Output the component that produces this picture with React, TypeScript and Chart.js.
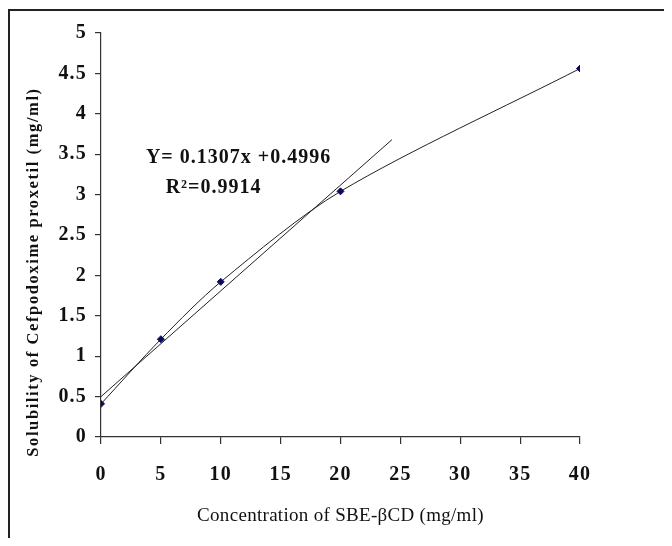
import React, { useEffect, useRef } from "react";
import { Chart, registerables } from "chart.js";

Chart.register(...registerables);

// Data
const concentration = [0, 5, 10, 20, 40];
const solubility = [0.41, 1.21, 1.92, 3.04, 4.56];
// Linear trendline endpoints (as drawn in the picture)
const trendX = [0, 24.3];
const trendY = [0.5, 3.68];

const xTitle = "Concentration of SBE-\u03B2CD (mg/ml)";
const yTitle = "Solubility of Cefpodoxime proxetil (mg/ml)";
const eqLine1 = "Y= 0.1307x +0.4996";
const eqLine2 = "R\u00B2=0.9914";
// anchor positions of the equation text (in data units)
const eq1Pos = [3.75, 3.39];
const eq2Pos = [5.4, 3.02];

const W = 658;
const H = 528;
const FONT = "'Liberation Serif', 'Times New Roman', serif";

export default function App() {
  const ref = useRef<HTMLCanvasElement>(null);
  useEffect(() => {
    if (!ref.current) return;
    const textPlugin = {
      id: "textPlugin",
      beforeDraw(chart: any) {
        chart.ctx.letterSpacing = "1.2px";
      },
      afterDraw(chart: any) {
        const ctx = chart.ctx;
        const ca = chart.chartArea;
        const xs = chart.scales.x;
        const ys = chart.scales.y;
        ctx.save();
        ctx.fillStyle = "#111";
        // Y title
        ctx.letterSpacing = "1.6px";
        ctx.font = `bold 16.5px ${FONT}`;
        ctx.textAlign = "center";
        ctx.textBaseline = "middle";
        ctx.translate(ca.left - 67, ca.top + 239);
        ctx.rotate(-Math.PI / 2);
        ctx.fillText(yTitle, 0, 0);
        ctx.restore();

        ctx.save();
        ctx.fillStyle = "#111";
        ctx.letterSpacing = "0.3px";
        ctx.font = `19px ${FONT}`;
        ctx.textAlign = "center";
        ctx.textBaseline = "middle";
        ctx.fillText(xTitle, (ca.left + ca.right) / 2, ca.bottom + 79);

        ctx.letterSpacing = "1px";
        ctx.font = `bold 20px ${FONT}`;
        ctx.textAlign = "left";
        ctx.textBaseline = "alphabetic";
        ctx.fillText(eqLine1, xs.getPixelForValue(eq1Pos[0]), ys.getPixelForValue(eq1Pos[1]));
        ctx.fillText(eqLine2, xs.getPixelForValue(eq2Pos[0]), ys.getPixelForValue(eq2Pos[1]));
        ctx.restore();
        ctx.letterSpacing = "0px";
      },
    };

    const chart = new Chart(ref.current, {
      type: "scatter",
      data: {
        datasets: [
          {
            label: "Solubility",
            data: concentration.map((x, i) => ({ x, y: solubility[i] })),
            showLine: true,
            tension: 0.3,
            borderColor: "#222",
            borderWidth: 1,
            pointStyle: "rectRot",
            pointRadius: 3.5,
            pointBackgroundColor: "#0b0b5e",
            pointBorderColor: "#0b0b5e",
            pointBorderWidth: 1,
            order: 1,
          },
          {
            label: "Linear",
            data: trendX.map((x, i) => ({ x, y: trendY[i] })),
            showLine: true,
            borderColor: "#222",
            borderWidth: 1,
            pointRadius: 0,
            order: 2,
          },
        ],
      },
      options: {
        responsive: false,
        animation: false,
        layout: { padding: { left: 0, top: 22, right: 88, bottom: 42 } },
        plugins: {
          legend: { display: false },
          tooltip: { enabled: false },
        },
        scales: {
          x: {
            type: "linear",
            min: 0,
            max: 40,
            afterFit(scale: any) {
              scale.height = 60;
            },
            ticks: {
              stepSize: 5,
              color: "#111",
              padding: 19,
              font: { family: FONT, size: 20, weight: "bold" },
              maxRotation: 0,
              callback: (v: any) => String(v),
            },
            grid: {
              drawOnChartArea: false,
              drawTicks: true,
              tickLength: 7,
              color: "#333",
              lineWidth: 1.2,
            },
            border: { display: true, color: "#333", width: 1.2 },
          },
          y: {
            type: "linear",
            min: 0,
            max: 5,
            afterFit(scale: any) {
              scale.width = 91;
            },
            ticks: {
              stepSize: 0.5,
              color: "#111",
              padding: 8,
              font: { family: FONT, size: 20, weight: "bold" },
              callback: (v: any) => String(v),
            },
            grid: {
              drawOnChartArea: false,
              drawTicks: true,
              tickLength: 6,
              color: "#333",
              lineWidth: 1.2,
            },
            border: { display: true, color: "#333", width: 1.2 },
          },
        },
      },
      plugins: [textPlugin],
    });
    return () => chart.destroy();
  }, []);

  return (
    <div
      style={{
        position: "relative",
        top: 1,
        width: W + 2,
        height: H + 2,
        borderTop: "2px solid #222",
        borderLeft: "2px solid #222",
        boxSizing: "border-box",
        background: "#fff",
      }}
    >
      <canvas ref={ref} width={W} height={H} style={{ display: "block", width: W, height: H }} />
    </div>
  );
}
